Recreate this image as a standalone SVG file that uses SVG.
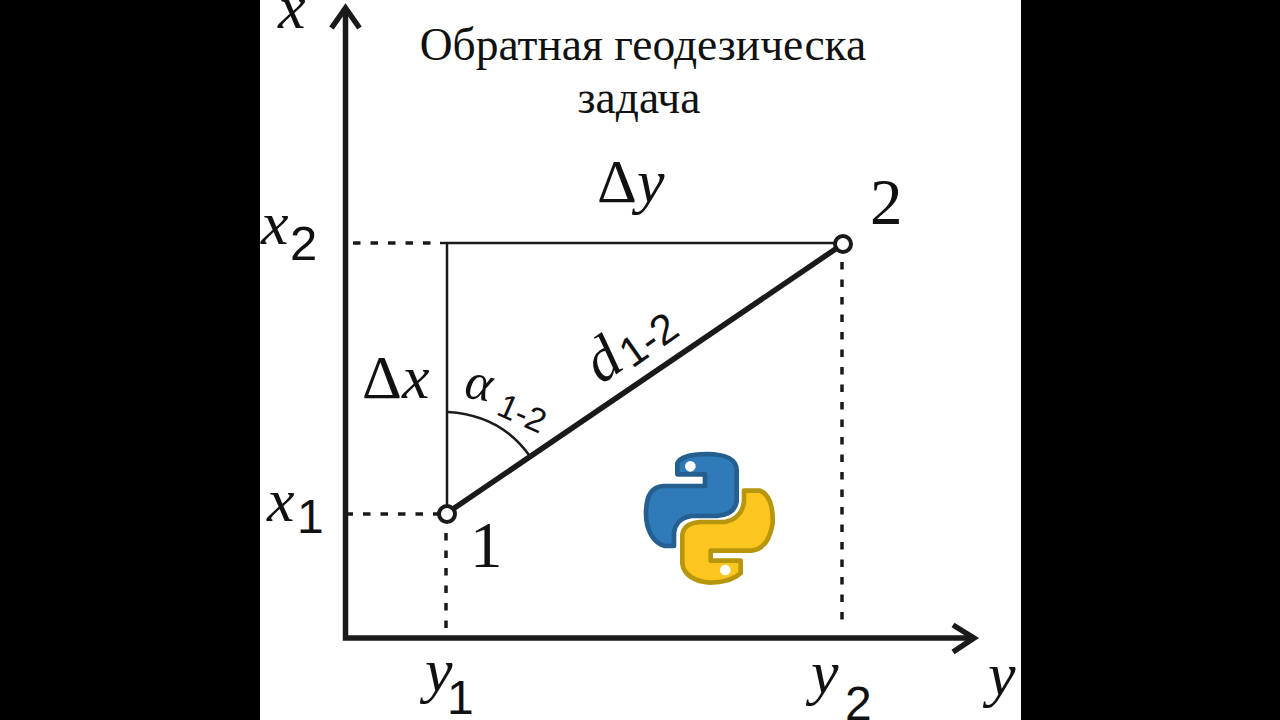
<svg xmlns="http://www.w3.org/2000/svg" width="1280" height="720" viewBox="0 0 1280 720">
<defs><style>
.s{font-family:"Liberation Serif",serif;fill:#111}
.i{font-style:italic}
.a{font-family:"Liberation Sans",sans-serif;fill:#111}
.ax{fill:none;stroke:#1a1a1a;stroke-width:5.5}
.d{fill:none;stroke:#1a1a1a;stroke-width:3.5;stroke-dasharray:7.5 10}
.t{fill:none;stroke:#1a1a1a;stroke-width:2.5}
</style></defs>
<rect width="1280" height="720" fill="#fff"/>
<g id="connectors">
<path class="ax" d="M345.5 8V638H974"/>
<path class="ax" d="M331.500 28L345.500 8L359.500 28" stroke-width="6.500"/>
<path class="ax" d="M953 625L974 638L953 652" stroke-width="6.500"/>
<path class="d" d="M353 243H432M345.500 514H438M446 533V628M842 262V628"/>
<path class="t" d="M440 243H835M447 243V505"/>
<path d="M453 509L837 248" fill="none" stroke="#1a1a1a" stroke-width="5.500"/>
<path class="t" d="M448 412Q500 415 529 455"/>
</g>
<g id="node-1"><circle cx="447" cy="514" r="8" fill="#fff" stroke="#1a1a1a" stroke-width="4"/><text class="s" x="470" y="567" font-size="65">1</text></g>
<g id="node-2"><circle cx="843" cy="244" r="8" fill="#fff" stroke="#1a1a1a" stroke-width="4"/><text class="s" x="870" y="224" font-size="65">2</text></g>
<g id="title"><text class="s" x="643" y="60" font-size="45.500" text-anchor="middle">Обратная геодезическа</text><text class="s" x="639" y="113" font-size="45.500" text-anchor="middle">задача</text></g>
<g id="labels">
<text class="s i" x="278" y="28" font-size="62">x</text>
<text class="s i" x="261" y="244" font-size="62">x</text><text class="a" x="290" y="260" font-size="49">2</text>
<text class="s i" x="267" y="521" font-size="62">x</text><text class="a" x="297" y="533" font-size="48">1</text>
<text class="s i" x="425" y="691" font-size="62">y</text><text class="a" x="447" y="714" font-size="48">1</text>
<text class="s i" x="811" y="693" font-size="62">y</text><text class="a" x="845" y="720" font-size="48">2</text>
<text class="s i" x="988" y="695" font-size="62">y</text>
<text class="s" x="597" y="202" font-size="62">Δ<tspan class="i">y</tspan></text>
<text class="s" x="362" y="398" font-size="62">Δ<tspan class="i">x</tspan></text>
<text class="s i" transform="translate(601 385) rotate(-35)" font-size="62">d</text>
<text class="a" transform="translate(632 369) rotate(-35)" font-size="42">1-2</text>
<text class="s i" transform="translate(463 397) rotate(10)" font-size="52">α</text>
<text class="a" transform="translate(495 414) rotate(24)" font-size="34">1-2</text>
</g>
<g id="python-logo" transform="translate(620 430) scale(.3333)" stroke-width="14" stroke-linejoin="round">
<path fill="#2f7ab8" stroke="#245f90" d="M172 133V100C180 80 220 72 260 72C320 72 350 90 350 120V215C345 245 320 256 290 258H215C185 262 165 280 162 310V348H135C100 340 78 300 78 250C78 200 95 170 130 168H255V133Z"/>
<path fill="#fdc51f" stroke="#b8960c" d="M372 182H420C445 190 460 225 458 280C450 330 430 358 395 362H272V392H362V430C340 450 305 458 270 458C225 455 190 435 187 400V315C190 290 210 278 240 276H315C345 270 368 250 372 215Z"/>
<circle cx="211" cy="109" r="16" fill="#fff"/><circle cx="316" cy="420" r="16" fill="#fff"/>
</g>
<g id="frame"><rect width="260" height="720" fill="#000"/><rect x="1021" width="259" height="720" fill="#000"/></g>
</svg>
